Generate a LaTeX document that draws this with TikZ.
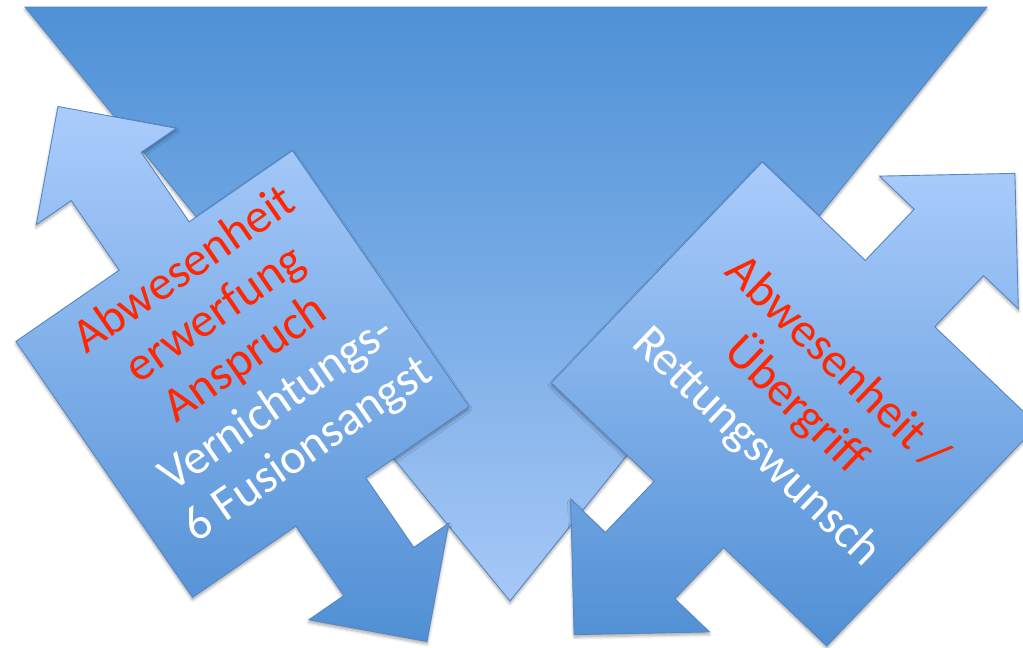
\documentclass[tikz,border=0pt]{standalone}
\usepackage{fontspec}
\setmainfont{Carlito}
\usetikzlibrary{shadows.blur}

\definecolor{triTop}{RGB}{78,145,214}
\definecolor{triBot}{RGB}{166,200,247}
\definecolor{arrLight}{RGB}{170,204,252}
\definecolor{arrDark}{RGB}{80,143,212}
\definecolor{edgeBlue}{RGB}{86,135,196}
\definecolor{txtRed}{RGB}{255,38,0}

\tikzset{
  softshadow/.style={blur shadow={shadow xshift=0pt, shadow yshift=-2.5pt,
      shadow blur steps=6, shadow opacity=35, shadow blur radius=3pt}},
  funnel/.style={draw=edgeBlue, line width=0.9pt, line join=miter,
      top color=triTop, bottom color=triBot, softshadow},
  twoway/.style={draw=edgeBlue, line width=0.9pt, line join=miter,
      top color=arrLight, bottom color=arrDark, softshadow},
  lbl/.style={font=\fontsize{48.5}{58}\selectfont, anchor=base,
      inner sep=0pt, transform shape},
  redlbl/.style={lbl, text=txtRed},
  whitelbl/.style={lbl, text=white},
}

\begin{document}
\begin{tikzpicture}[x=1pt, y=1pt]
  \useasboundingbox (0,0) rectangle (1023,-648);

  % large inverted triangle in the background
  \path[funnel] (25,-7) -- (987,-7) -- (510,-601) -- cycle;

  % left double arrow with square body
  \begin{scope}[shift={(242.5,-374)}, rotate=34.6]
    \path[twoway]
      (-168,-155.5) -- (-168,155.5) -- (-42.5,155.5) -- (-42.5,240)
      -- (-85,240) -- (0,325) -- (85,240) -- (42.5,240) -- (42.5,155.5)
      -- (168,155.5) -- (168,-155.5) -- (42.5,-155.5) -- (42.5,-240)
      -- (85,-240) -- (0,-325) -- (-85,-240) -- (-42.5,-240)
      -- (-42.5,-155.5) -- cycle;
    \node[redlbl]   (l1) at (11,105)   {Abwesenheit};
    \node[redlbl]   (l2) at (11,51)    {erwerfung};
    \node[redlbl]   (l3) at (11,-3)    {Anspruch};
    \node[whitelbl] (l4) at (11,-58)   {Vernichtungs-};
    \node[whitelbl] (l5) at (11,-113)  {6 Fusionsangst};
  \end{scope}

  % right double arrow with square body
  \begin{scope}[shift={(794.5,-404)}, rotate=-43.7]
    \path[twoway]
      (-190.5,-152.7) -- (-190.5,152.7) -- (-48,152.7) -- (-48,223.5)
      -- (-96,223.5) -- (0,319) -- (96,223.5) -- (48,223.5) -- (48,152.7)
      -- (190.5,152.7) -- (190.5,-152.7) -- (48,-152.7) -- (48,-223.5)
      -- (96,-223.5) -- (0,-319) -- (-96,-223.5) -- (-48,-223.5)
      -- (-48,-152.7) -- cycle;
    \node[redlbl]   (r1) at (2,45)  {Abwesenheit /};
    \node[redlbl]   (r2) at (2,-14) {Übergriff};
    \node[whitelbl] (r3) at (2,-71) {Rettungswunsch};
  \end{scope}
\end{tikzpicture}
\end{document}
